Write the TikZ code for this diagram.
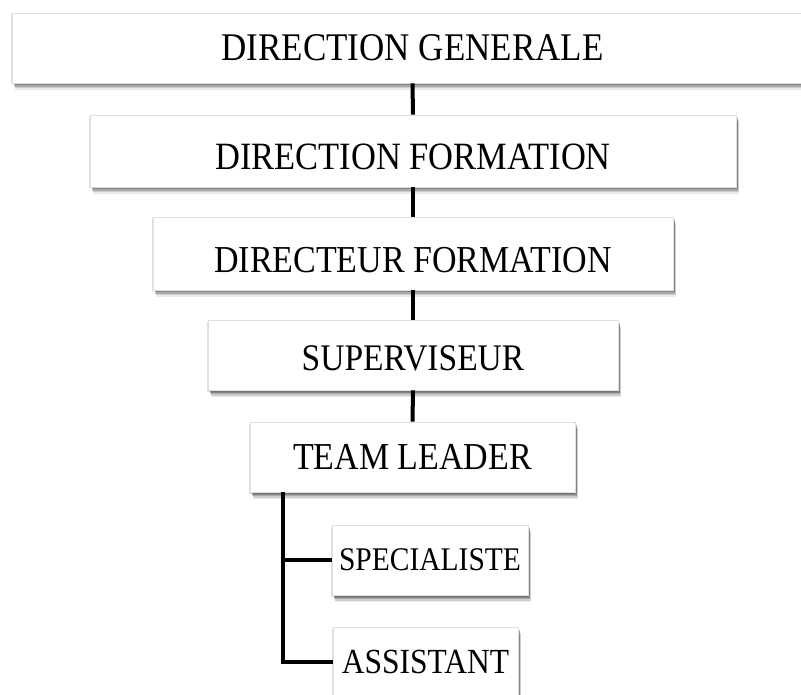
\documentclass[tikz,border=0pt]{standalone}
\usepackage{fontspec}
\setmainfont{Liberation Serif}
\usetikzlibrary{shadows}
\newcommand\talltxt[1]{\scalebox{1}[1.12]{#1}}
\begin{document}
\begin{tikzpicture}[x=1pt,y=-1pt,
  orgbox/.style={draw=gray!25, line width=0.6pt, fill=white, inner sep=0pt,
    align=center, text=black,
    drop shadow={shadow xshift=3pt, shadow yshift=-7pt, opacity=0.08, fill=black},
    drop shadow={shadow xshift=2.5pt, shadow yshift=-5.5pt, opacity=0.12, fill=black},
    drop shadow={shadow xshift=2pt, shadow yshift=-4pt, opacity=0.18, fill=black},
    drop shadow={shadow xshift=1.5pt, shadow yshift=-2.5pt, opacity=0.22, fill=black},
    drop shadow={shadow xshift=-1.5pt, shadow yshift=-1.5pt, opacity=0.12, fill=black}},
  big/.style={font=\fontsize{34}{40}\selectfont},
  conn/.style={line width=4pt, draw=black}]
\useasboundingbox (0,0) rectangle (801,695);
\node[orgbox, font=\fontsize{35}{40}\selectfont, minimum width=801pt, minimum height=70pt] (b1) at (412.5,48) {\talltxt{DIRECTION GENERALE}};
\node[orgbox, font=\fontsize{34.5}{40}\selectfont, text height=38pt, text depth=0pt, minimum width=646pt, minimum height=72pt] (b2) at (413,151) {\talltxt{DIRECTION FORMATION}};
\node[orgbox, big, text height=38pt, text depth=0pt, minimum width=520pt, minimum height=73pt] (b3) at (413,253.5) {\talltxt{DIRECTEUR FORMATION}};
\node[orgbox, font=\fontsize{33.5}{40}\selectfont, text height=31pt, text depth=0pt, minimum width=410pt, minimum height=70pt] (b4) at (413,355) {\talltxt{SUPERVISEUR}};
\node[orgbox, big, minimum width=325pt, minimum height=70pt] (b5) at (412.5,457) {\talltxt{TEAM LEADER}};
\node[orgbox, font=\fontsize{29.5}{34}\selectfont, minimum width=196pt, minimum height=70pt] (b6) at (430,560) {\talltxt{SPECIALISTE}};
\node[orgbox, font=\fontsize{31.5}{36}\selectfont, minimum width=185pt, minimum height=70pt] (b7) at (425.5,662) {\talltxt{ASSISTANT}};
\coordinate (bx) at (283,0);
\draw[conn] (b1.south) -- (b2.north);
\draw[conn] (b2.south) -- (b3.north);
\draw[conn] (b3.south) -- (b4.north);
\draw[conn] (b4.south) -- (b5.north);
\draw[conn] (b5.south -| bx) |- (b6.west);
\draw[conn] (b5.south -| bx) |- (b7.west);
\end{tikzpicture}
\end{document}
